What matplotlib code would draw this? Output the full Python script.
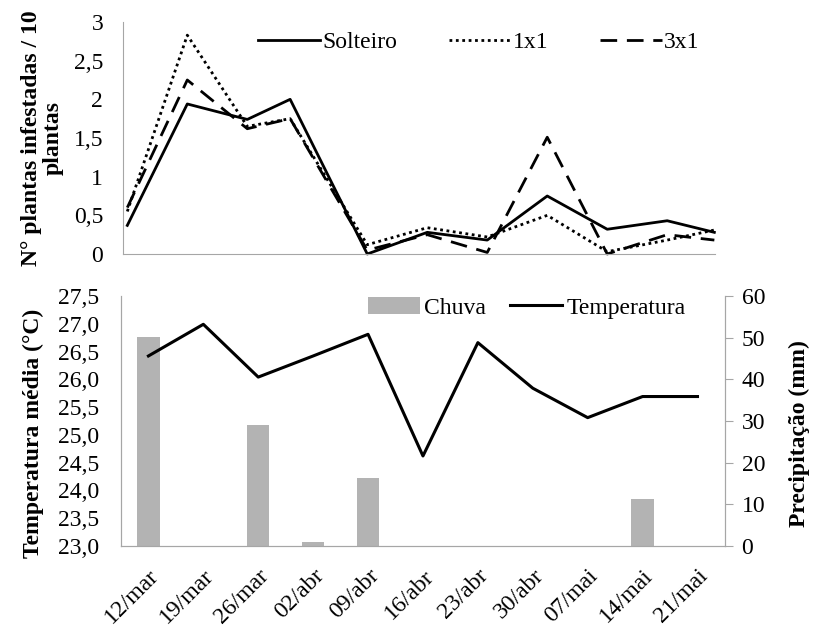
import matplotlib
matplotlib.use("Agg")
import matplotlib.pyplot as plt
from matplotlib.patches import Patch

plt.rcParams['font.family'] = ['Liberation Serif', 'DejaVu Serif']

# infestation samples (days after 12/mar)
dias = [0, 7, 14, 19, 28, 35, 42, 49, 56, 63, 68.5]
solteiro = [0.37, 1.94, 1.74, 2.0, 0.0, 0.28, 0.18, 0.75, 0.32, 0.43, 0.28]
um_x_um = [0.55, 2.83, 1.65, 1.75, 0.12, 0.34, 0.22, 0.50, 0.03, 0.18, 0.31]
tres_x_um = [0.60, 2.25, 1.62, 1.75, 0.05, 0.25, 0.02, 1.51, 0.0, 0.25, 0.18]

# weather
datas = ['12/mar', '19/mar', '26/mar', '02/abr', '09/abr', '16/abr',
         '23/abr', '30/abr', '07/mai', '14/mai', '21/mai']
chuva = [50.2, 0, 29.0, 1.0, 16.4, 0, 0, 0, 0, 11.2, 0]
temperatura = [26.42, 26.99, 26.04, 26.42, 26.81, 24.62, 26.66, 25.84, 25.31, 25.69, 25.69]

grey = '#a6a6a6'
fs = 17

fig = plt.figure(figsize=(8.13, 6.32), dpi=100)

# --- top: infested plants ---
ax1 = fig.add_axes([0.1509, 0.5981, 0.7285, 0.3671])
ax1.plot(dias, solteiro, color='black', lw=2.0, label='Solteiro', clip_on=False)
ax1.plot(dias, um_x_um, color='black', lw=2.0, ls=(0, (1, 1.3)), label='1x1', clip_on=False)
ax1.plot(dias, tres_x_um, color='black', lw=2.0, ls=(0, (6, 3.5)), label='3x1', clip_on=False)
ax1.set_xlim(-0.54, 68.57)
ax1.set_ylim(0, 3)
ax1.set_yticks([0, 0.5, 1, 1.5, 2, 2.5, 3])
ax1.set_yticklabels(['0', '0,5', '1', '1,5', '2', '2,5', '3'], fontsize=fs)
ax1.set_xticks([])
ax1.tick_params(axis='y', length=0, pad=14)
for s in ['top', 'right']:
    ax1.spines[s].set_visible(False)
for s in ['left', 'bottom']:
    ax1.spines[s].set_color(grey)
ax1.set_ylabel('N° plantas infestadas / 10\nplantas', fontsize=fs, fontweight='bold',
               linespacing=1.0)
ax1.yaxis.set_label_coords(-0.1, 0.5)
ax1.legend(loc='upper right', bbox_to_anchor=(1.01, 1.05), ncol=3, frameon=False,
           fontsize=fs, handlelength=2.6, handletextpad=0.1, columnspacing=2.2)

# --- bottom: rain and temperature ---
ax2 = fig.add_axes([0.1488, 0.1361, 0.7429, 0.3956])
ax3 = ax2.twinx()
x = range(len(datas))
ax3.bar(x, chuva, width=0.41, color='#b3b3b3', zorder=1)
ax3.set_ylim(0, 60)
ax3.set_yticks(range(0, 61, 10))
ax3.tick_params(axis='y', labelsize=fs, length=6, color=grey, direction='out', pad=6)
ax3.set_ylabel('Precipitação (mm)', fontsize=fs, fontweight='bold')
ax3.yaxis.set_label_coords(1.105, 0.45)

ax2.set_zorder(ax3.get_zorder() + 1)
ax2.patch.set_visible(False)
ax2.plot(x, temperatura, color='black', lw=2.2)
ax2.set_ylim(23.0, 27.5)
ax2.set_xlim(-0.5, len(datas) - 0.5)
ticks = [23.0 + 0.5 * i for i in range(10)]
ax2.set_yticks(ticks)
ax2.set_yticklabels([f'{t:.1f}'.replace('.', ',') for t in ticks], fontsize=fs)
ax2.tick_params(axis='y', length=0, pad=16)
ax2.set_xticks(list(x))
ax2.set_xticklabels(datas, fontsize=fs, rotation=45, ha='right', va='top',
                    rotation_mode='anchor')
ax2.tick_params(axis='x', length=0, pad=14)
ax2.set_ylabel('Temperatura média (°C)', fontsize=fs, fontweight='bold')
ax2.yaxis.set_label_coords(-0.128, 0.45)
for a in (ax2, ax3):
    a.spines['top'].set_visible(False)
    for s in ['left', 'bottom', 'right']:
        a.spines[s].set_color(grey)

handles = [Patch(facecolor='#b3b3b3', label='Chuva'),
           plt.Line2D([], [], color='black', lw=2.2, label='Temperatura')]
ax2.legend(handles=handles, loc='upper right', bbox_to_anchor=(0.97, 1.08), ncol=2,
           frameon=False, fontsize=fs, handlelength=2.2, handletextpad=0.2,
           columnspacing=1.0)

fig.savefig('out.png', dpi=100)
